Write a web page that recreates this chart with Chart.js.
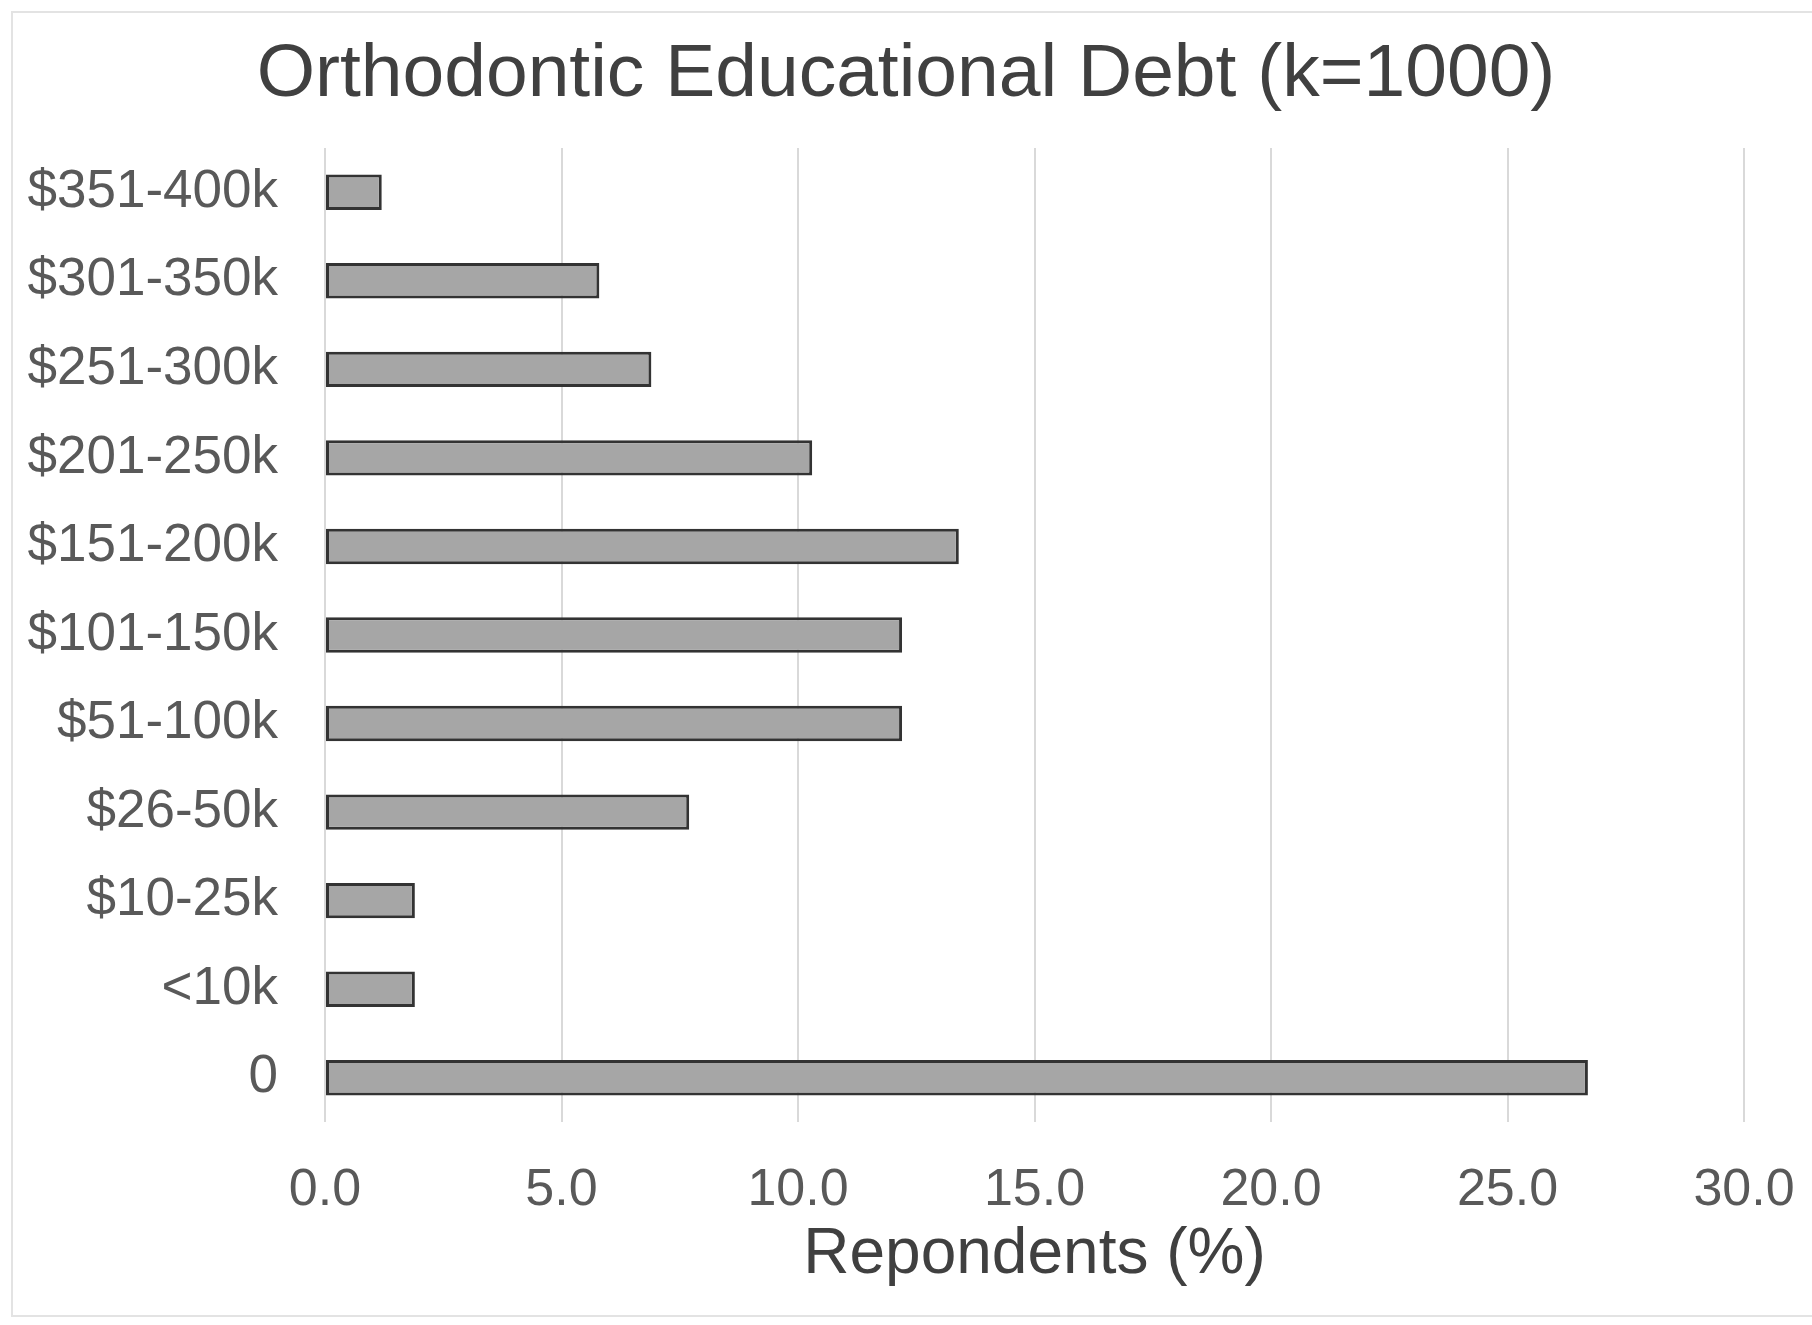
<!DOCTYPE html>
<html>
<head>
<meta charset="utf-8">
<script src="https://cdn.jsdelivr.net/npm/chart.js@4/dist/chart.umd.min.js"></script>
<style>
  body { margin: 0; background: #fff; }
  #wrap { position: relative; width: 1812px; height: 1325px; }
  #frame { position: absolute; left: 11px; top: 11px; right: 0; bottom: 8px; border: 2px solid #e3e3e3; border-right: none; }
  canvas { position: absolute; left: 0; top: 0; }
</style>
</head>
<body>
<div id="wrap">
  <div id="frame"></div>
  <canvas id="debt" width="1812" height="1325"></canvas>
</div>
<script>
const debtRanges = ['$351-400k', '$301-350k', '$251-300k', '$201-250k', '$151-200k', '$101-150k', '$51-100k', '$26-50k', '$10-25k', '<10k', '0'];
const respondentsPct = [1.2, 5.8, 6.9, 10.3, 13.4, 12.2, 12.2, 7.7, 1.9, 1.9, 26.7];
const xTicks = [0, 5, 10, 15, 20, 25, 30];

new Chart('debt', {
    type: 'bar',
    data: {
        labels: debtRanges,
        datasets: [{
            data: respondentsPct,
            backgroundColor: '#a6a6a6',
            borderColor: '#333333',
            borderWidth: 3,
            borderSkipped: false,
            barPercentage: 0.4,
            categoryPercentage: 1.0,
        }]
    },
    options: {
        indexAxis: 'y',
        responsive: false,
        animation: false,
        layout: { padding: 0 },
        plugins: {
            legend: { display: false },
            tooltip: { enabled: false },
            title: {
                display: true,
                text: 'Orthodontic Educational Debt (k=1000)',
                color: '#404040',
                font: { family: 'Liberation Sans', size: 75, weight: 'normal' },
                padding: { top: 30, bottom: 28 }
            }
        },
        scales: {
            x: {
                min: 0,
                max: 30,
                afterBuildTicks: (scale) => {
                    scale.ticks = xTicks.map(v => ({ value: v }));
                },
                afterFit: (scale) => {
                    scale.height = 203;
                    scale.paddingLeft = 0;
                    scale.paddingRight = 68;
                },
                grid: { color: '#d9d9d9', lineWidth: 2, drawTicks: false },
                border: { display: false },
                ticks: {
                    padding: 37,
                    color: '#595959',
                    font: { family: 'Liberation Sans', size: 52 },
                    callback: (v) => Number(v).toFixed(1)
                },
                title: {
                    display: true,
                    text: 'Repondents (%)',
                    color: '#404040',
                    font: { family: 'Liberation Sans', size: 64 },
                    padding: { top: 0, bottom: 31 }
                }
            },
            y: {
                afterFit: (scale) => { scale.width = 325; },
                grid: { display: false, drawTicks: false },
                border: { display: false },
                ticks: {
                    padding: 47,
                    color: '#595959',
                    font: { family: 'Liberation Sans', size: 53 }
                }
            }
        }
    }
});
</script>
</body>
</html>
